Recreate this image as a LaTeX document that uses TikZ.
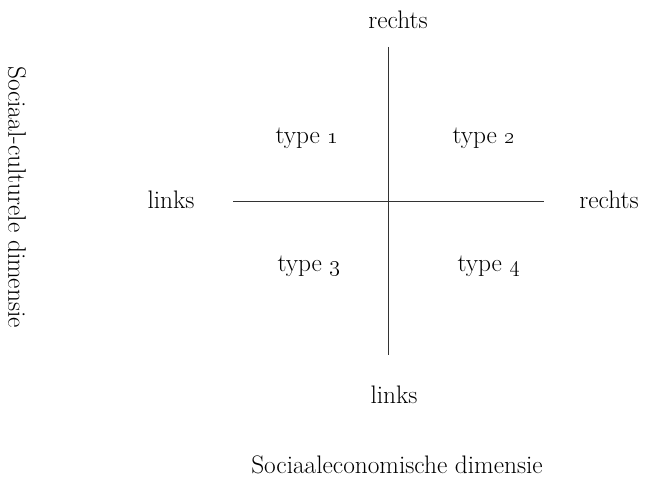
\documentclass[tikz,border=0pt]{standalone}
\begin{document}
\begin{tikzpicture}[x=0.75pt,y=-0.75pt,
  lbl/.style={font=\fontsize{19}{22}\selectfont, inner sep=0pt},
  axis/.style={line width=0.7pt, black!80}]
\useasboundingbox (0,0) rectangle (649,477);
\coordinate (vt) at (388,47);
\coordinate (vb) at (388,355);
\coordinate (hl) at (233,201);
\coordinate (hr) at (544,201);
\draw[axis] (vt) -- (vb);
\draw[axis] (hl) -- (hr);
\node[lbl] (rt) at (398,20) {rechts};
\node[lbl] (ll) at (171,200) {links};
\node[lbl] (rr) at (609,200) {rechts};
\node[lbl] (lb) at (394,395) {links};
\node[lbl] (t1) at (307,138) {type \oldstylenums{1}};
\node[lbl] (t2) at (484,138) {type \oldstylenums{2}};
\node[lbl] (t3) at (309,266) {type \oldstylenums{3}};
\node[lbl] (t4) at (489,266) {type \oldstylenums{4}};
\node[lbl] (xl) at (397,465) {Sociaaleconomische dimensie};
\node[lbl, rotate=-90] (yl) at (17,197) {Sociaal-culturele dimensie};
\end{tikzpicture}
\end{document}
